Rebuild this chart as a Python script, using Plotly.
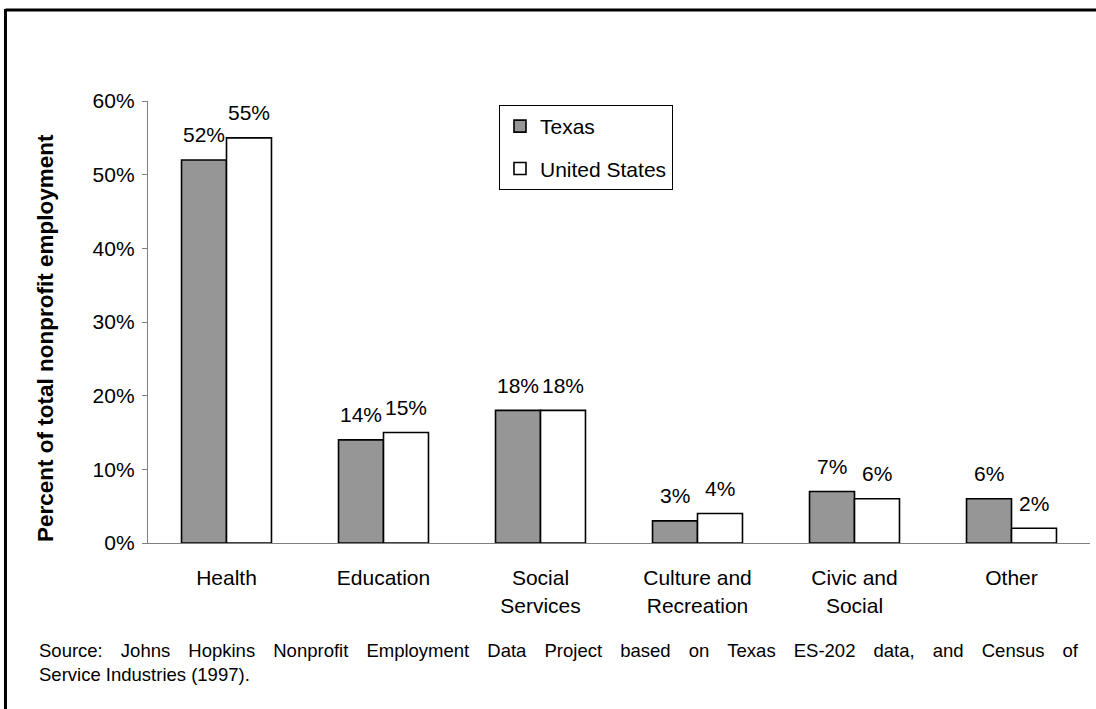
import plotly.graph_objects as go

# Share of total nonprofit employment by field (percent)
categories = ["Health", "Education", "Social<br>Services", "Culture and<br>Recreation",
              "Civic and<br>Social", "Other"]
texas = [52, 14, 18, 3, 7, 6]
united_states = [55, 15, 18, 4, 6, 2]
y_ticks = [0, 10, 20, 30, 40, 50, 60]
y_tick_labels = [f"{v}%" for v in y_ticks]
y_title = "Percent of total nonprofit employment"

source_lines = [
    "Source: Johns Hopkins Nonprofit Employment Data Project based on Texas ES-202 data, and Census of",
    "Service Industries (1997).",
]

FONT = "Liberation Sans, Arial, sans-serif"
# padding added to every word gap of a justified line (en space + thin space)
GAP_PAD = "\u2002\u2009"


def justify(line, pad=GAP_PAD):
    """Widen every word gap of a line by the same fixed padding."""
    return (" " + pad).join(line.split(" "))


fig = go.Figure()
fig.add_trace(go.Bar(
    name="Texas", x=categories, y=texas, legendgroup="tx",
    marker=dict(color="#969696", line=dict(color="black", width=1.6)),
))
fig.add_trace(go.Bar(
    name="United States", x=categories, y=united_states, legendgroup="us",
    marker=dict(color="white", line=dict(color="black", width=1.6)),
))

# value labels above each bar
annotations = []
for series, shift in ((texas, -22.5), (united_states, 22.5)):
    for cat, v in zip(categories, series):
        annotations.append(dict(
            x=cat, y=v, xref="x", yref="y", text=f"{v}%", showarrow=False,
            xshift=shift, yshift=25, yanchor="middle",
            font=dict(family=FONT, size=21, color="black"),
        ))

# vertical value-axis title
annotations.append(dict(
    x=-0.1093, y=0.4638, xref="paper", yref="paper", xanchor="center", yanchor="middle",
    textangle=-90, showarrow=False, text=f"<b>{y_title}</b>",
    font=dict(family=FONT, size=22.5, color="black"),
))

# source note (first line justified across the frame)
annotations += [
    dict(x=-0.1178, y=-0.2443, xref="paper", yref="paper", xanchor="left", yanchor="middle",
         showarrow=False, font=dict(family=FONT, size=18.5, color="black"),
         text=justify(source_lines[0])),
    dict(x=-0.1178, y=-0.2986, xref="paper", yref="paper", xanchor="left", yanchor="middle",
         showarrow=False, font=dict(family=FONT, size=18.5, color="black"),
         text=source_lines[1]),
]

# frame lines along top and left edges
shapes = [
    dict(type="line", xref="paper", yref="paper", x0=-0.1513, x1=1.01, y0=1.2059, y1=1.2059,
         line=dict(color="black", width=3)),
    dict(type="line", xref="paper", yref="paper", x0=-0.1513, x1=-0.1513, y0=1.2081, y1=-0.40,
         line=dict(color="black", width=3)),
]

fig.update_layout(
    width=1096, height=709,
    margin=dict(l=148, r=6, t=101, b=166),
    paper_bgcolor="white", plot_bgcolor="white",
    barmode="group", bargap=0.427, bargroupgap=0,
    font=dict(family=FONT, size=21, color="black"),
    showlegend=True,
    legend=dict(
        x=0.3726, y=0.991, xanchor="left", yanchor="top",
        bgcolor="white", bordercolor="black", borderwidth=1,
        font=dict(family=FONT, size=21, color="black"),
        traceorder="grouped", tracegroupgap=12,
    ),
    annotations=annotations,
    shapes=shapes,
)
fig.update_xaxes(
    showline=True, linecolor="#808080", linewidth=1.3,
    ticks="", showgrid=False, ticklabelstandoff=16,
    tickfont=dict(family=FONT, size=21, color="black"),
)
fig.update_yaxes(
    range=[0, 60], tickmode="array", tickvals=y_ticks, ticktext=y_tick_labels,
    showline=True, linecolor="#808080", linewidth=1.3,
    ticks="outside", ticklen=5, tickcolor="#808080", showgrid=False, zeroline=False,
    ticklabelstandoff=3,
    tickfont=dict(family=FONT, size=21, color="black"),
)

fig.write_html("out.html")
